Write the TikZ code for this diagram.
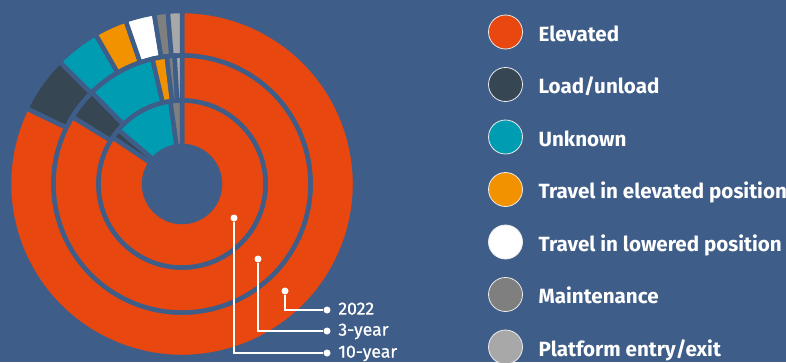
\documentclass[tikz,border=0pt]{standalone}
\usepackage{fontspec}
\setmainfont{Fira Sans}
\newfontfamily\yearfont{Fira Sans}[FakeBold=0.8]
\usetikzlibrary{calc}
\usetikzlibrary{positioning}

\definecolor{bgblue}{RGB}{62,93,136}
\definecolor{elev}{RGB}{232,71,15}
\definecolor{load}{RGB}{54,70,83}
\definecolor{unkn}{RGB}{0,157,178}
\definecolor{travup}{RGB}{243,146,0}
\definecolor{travdown}{RGB}{255,255,255}
\definecolor{maint}{RGB}{127,127,127}
\definecolor{entry}{RGB}{168,168,168}

\tikzset{
  seg/.style={draw=bgblue,line width=4.5pt,line join=miter},
  key/.style={circle,draw=white!85!gray,line width=0.8pt,minimum size=34pt,inner sep=0pt},
  keytext/.style={font=\bfseries\fontsize{20.6}{22}\selectfont,text=white,inner sep=0pt,text height=14.2pt,text depth=0pt},
  dot/.style={circle,fill=white,minimum size=7pt,inner sep=0pt},
  leader/.style={white,line width=2pt},
  yeartext/.style={font=\yearfont\fontsize{17.6}{20}\selectfont,text=white,inner sep=0pt,text height=12.2pt,text depth=0pt,yshift=1.5pt}
}

\begin{document}
\begin{tikzpicture}[x=1pt,y=1pt]
\useasboundingbox (-182,-178) rectangle (604,184);
\fill[bgblue] (-182,-178) rectangle (604,184);
\coordinate (O) at (0,0);

% 2022 -- outer ring
\filldraw[seg,fill=elev] (90:128.5) arc (90:-206:128.5) -- (-206:173) arc (-206:90:173) -- cycle;
\filldraw[seg,fill=load] (154:128.5) arc (154:135:128.5) -- (135:173) arc (135:154:173) -- cycle;
\filldraw[seg,fill=unkn] (135:128.5) arc (135:120:128.5) -- (120:173) arc (120:135:173) -- cycle;
\filldraw[seg,fill=travup] (120:128.5) arc (120:109:128.5) -- (109:173) arc (109:120:173) -- cycle;
\filldraw[seg,fill=travdown] (109:128.5) arc (109:99.3:128.5) -- (99.3:173) arc (99.3:109:173) -- cycle;
\filldraw[seg,fill=maint] (99.3:128.5) arc (99.3:94.7:128.5) -- (94.7:173) arc (94.7:99.3:173) -- cycle;
\filldraw[seg,fill=entry] (94.7:128.5) arc (94.7:90:128.5) -- (90:173) arc (90:94.7:173) -- cycle;

% 3-year -- middle ring
\filldraw[seg,fill=elev] (90:83.5) arc (90:-211.5:83.5) -- (-211.5:128.5) arc (-211.5:90:128.5) -- cycle;
\filldraw[seg,fill=load] (148.5:83.5) arc (148.5:134.5:83.5) -- (134.5:128.5) arc (134.5:148.5:128.5) -- cycle;
\filldraw[seg,fill=unkn] (134.5:83.5) arc (134.5:103.3:83.5) -- (103.3:128.5) arc (103.3:134.5:128.5) -- cycle;
\filldraw[seg,fill=travup] (103.3:83.5) arc (103.3:96.8:83.5) -- (96.8:128.5) arc (96.8:103.3:128.5) -- cycle;
\filldraw[seg,fill=maint] (96.8:83.5) arc (96.8:93.3:83.5) -- (93.3:128.5) arc (93.3:96.8:128.5) -- cycle;
\filldraw[seg,fill=entry] (93.3:83.5) arc (93.3:90:83.5) -- (90:128.5) arc (90:93.3:128.5) -- cycle;

% 10-year -- inner ring
\filldraw[seg,fill=elev] (90:38) arc (90:-214:38) -- (-214:83.5) arc (-214:90:83.5) -- cycle;
\filldraw[seg,fill=load] (146:38) arc (146:139.5:38) -- (139.5:83.5) arc (139.5:146:83.5) -- cycle;
\filldraw[seg,fill=unkn] (139.5:38) arc (139.5:98:38) -- (98:83.5) arc (98:139.5:83.5) -- cycle;
\filldraw[seg,fill=maint] (98:38) arc (98:90:38) -- (90:83.5) arc (90:98:83.5) -- cycle;

% leaders
\node[dot] (d22) at (103,-107) {};
\node[dot] (e22) at (145,-126) {};
\node[dot] (d3) at (76,-75) {};
\node[dot] (e3) at (145,-147) {};
\node[dot] (d10) at (52,-34) {};
\node[dot] (e10) at (145,-169) {};
\draw[leader] (d22) |- (e22);
\draw[leader] (d3) |- (e3);
\draw[leader] (d10) |- (e10);
\node[yeartext,right=7.5pt of e22] (t22) {2022};
\node[yeartext,right=7.5pt of e3] (t3) {3-year};
\node[yeartext,right=7.5pt of e10] (t10) {10-year};

% legend
\node[key,fill=elev] (k1) at (323.5,152) {};
\node[key,fill=load] (k2) at (323.5,99.5) {};
\node[key,fill=unkn] (k3) at (323.5,47) {};
\node[key,fill=travup] (k4) at (323.5,-5.5) {};
\node[key,fill=travdown] (k5) at (323.5,-58) {};
\node[key,fill=maint] (k6) at (323.5,-110.5) {};
\node[key,fill=entry] (k7) at (323.5,-163) {};
\node[keytext,right=15.5pt of k1,yshift=-2pt] (l1) {Elevated};
\node[keytext,right=15.5pt of k2,yshift=-2pt] (l2) {Load/unload};
\node[keytext,right=15.5pt of k3,yshift=-2pt] (l3) {Unknown};
\node[keytext,right=15.5pt of k4,yshift=-2pt] (l4) {Travel in elevated position};
\node[keytext,right=15.5pt of k5,yshift=-2pt] (l5) {Travel in lowered position};
\node[keytext,right=15.5pt of k6,yshift=-2pt] (l6) {Maintenance};
\node[keytext,right=15.5pt of k7,yshift=-2pt] (l7) {Platform entry/exit};
\end{tikzpicture}
\end{document}
